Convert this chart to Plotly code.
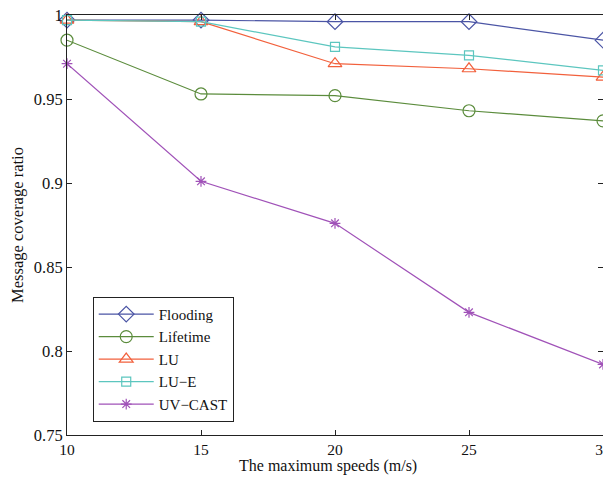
import plotly.graph_objects as go

speeds = [10, 15, 20, 25, 30]
flooding = [0.997, 0.997, 0.996, 0.996, 0.985]
lifetime = [0.985, 0.953, 0.952, 0.943, 0.937]
lu = [0.997, 0.996, 0.971, 0.968, 0.963]
lu_e = [0.997, 0.996, 0.981, 0.976, 0.967]
uv_cast = [0.971, 0.901, 0.876, 0.823, 0.792]

y_tickvals = [0.75, 0.8, 0.85, 0.9, 0.95, 1.0]
y_ticktext = ["0.75", "0.8", "0.85", "0.9", "0.95", "1"]
x_tickvals = [10, 15, 20, 25, 30]
x_title = "The maximum speeds (m/s)"
y_title = "Message coverage ratio"

series = [
    ("Flooding", flooding, "#4b55a5", "diamond-open", 12),
    ("Lifetime", lifetime, "#5b8c3c", "circle-open", 12),
    ("LU", lu, "#f2603c", "triangle-up-open", 12),
    ("LU\u2212E", lu_e, "#5cc6bf", "square-open", 9),
    ("UV\u2212CAST", uv_cast, "#a052b8", "asterisk-open", 9),
]

fig = go.Figure()
for name, vals, color, sym, size in series:
    fig.add_trace(go.Scatter(
        x=speeds, y=vals, name=name, mode="lines+markers",
        line=dict(color=color, width=1.2),
        marker=dict(symbol=sym, size=size, color=color, line=dict(color=color, width=1.2)),
        cliponaxis=False,
    ))

fam = "Liberation Serif, Times New Roman, serif"
font = dict(family=fam, size=16.5, color="#111")
fig.update_layout(
    width=595, height=467,
    margin=dict(l=59, r=0, t=7, b=40, autoexpand=False),
    paper_bgcolor="white", plot_bgcolor="white",
    font=font,
    showlegend=True,
    legend=dict(
        x=0.048, y=0.329, xanchor="left", yanchor="top",
        bordercolor="#222", borderwidth=1, bgcolor="white",
        font=dict(family=fam, size=15, color="#111"),
        itemwidth=55, tracegroupgap=0,
    ),
    xaxis=dict(
        range=[10, 30], tickvals=x_tickvals, ticks="inside", ticklen=5,
        showgrid=False, zeroline=False, showline=True, linecolor="#222", linewidth=1,
        mirror="ticks", tickcolor="#222", ticklabelstandoff=0, ticklabeloverflow="allow",
        tickfont=dict(size=15.5),
    ),
    yaxis=dict(
        range=[0.75, 1.0], tickvals=y_tickvals, ticktext=y_ticktext, ticks="inside", ticklen=5,
        showgrid=False, zeroline=False, showline=True, linecolor="#222", linewidth=1,
        mirror="ticks", tickcolor="#222", ticklabeloverflow="allow",
        title=dict(text=y_title, standoff=6, font=dict(size=16.5)),
        tickfont=dict(size=16.5),
    ),
    annotations=[dict(
        text=x_title, xref="paper", yref="paper", x=0.487, y=0,
        xanchor="center", yanchor="middle", yshift=-31, showarrow=False,
        font=dict(family=fam, size=16, color="#111"),
    )],
)

fig.write_html("out.html")
